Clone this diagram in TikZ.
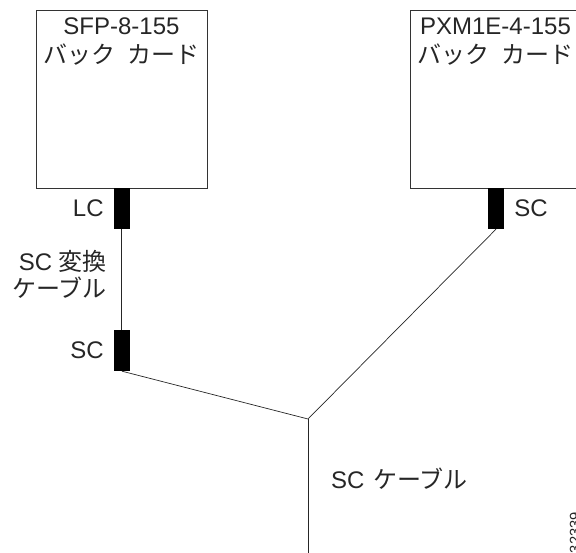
\documentclass[tikz,border=0pt]{standalone}
\usepackage{fontspec}
\setmainfont{Liberation Sans}
\newfontfamily\cjk{Noto Sans CJK JP}
\usetikzlibrary{positioning}
\begin{document}
\begin{tikzpicture}[
    x=1pt,y=-1pt,
    node distance=0pt and 10pt,
    every node/.style={font=\fontsize{24}{27}\selectfont,text=black!85},
    card/.style={rectangle,draw=black!80,line width=0.8pt,minimum width=171pt,minimum height=178pt,
                 anchor=north west,inner sep=0pt},
    plug/.style={rectangle,fill=black,minimum width=16pt,minimum height=41pt,inner sep=0pt},
    cable/.style={draw=black!85,line width=0.7pt},
    caption/.style={inner sep=0pt,align=center}
]
\useasboundingbox (0,0) rectangle (576,553);
\node[card] (sfp) at (36,10) {};
\node[card] (pxm) at (410,10) {};
\node[caption,anchor=north] (sfptext) at (121.5,18) {SFP-8-155\\[2pt]{\cjk バック\hspace{6pt} カード}};
\node[caption,anchor=north] (pxmtext) at (495.5,18) {PXM1E-4-155\\[2pt]{\cjk バック\hspace{6pt} カード}};
\node[plug] (lc) at (122,208.5) {};
\node[plug] (scleft) at (122,350.5) {};
\node[plug] (scright) at (496,208.5) {};
\coordinate (joint) at (308,419);
\coordinate (bottom) at (308,553);
\node[caption,left=of lc] (lctext) {LC};
\node[caption,left=of scleft] (sclefttext) {SC};
\node[caption,right=of scright] (scrighttext) {SC};
\node[caption,anchor=east,align=right] (adapter) at (107,274) {SC {\cjk 変換}\\{\cjk ケーブル}};
\node[caption,anchor=west] (sccable) at (331,479) {SC\hspace{2pt} {\cjk ケーブル}};
\node[caption,rotate=90,anchor=east,font=\fontsize{14.7}{16}\selectfont] (figid) at (575,512) {32339};
\draw[cable] ([xshift=-1pt]lc.south) -- ([xshift=-1pt]scleft.north);
\draw[cable] (scleft.south) -- (joint);
\draw[cable] (scright.south) -- (joint);
\draw[cable] (joint) -- (bottom);
\end{tikzpicture}
\end{document}
